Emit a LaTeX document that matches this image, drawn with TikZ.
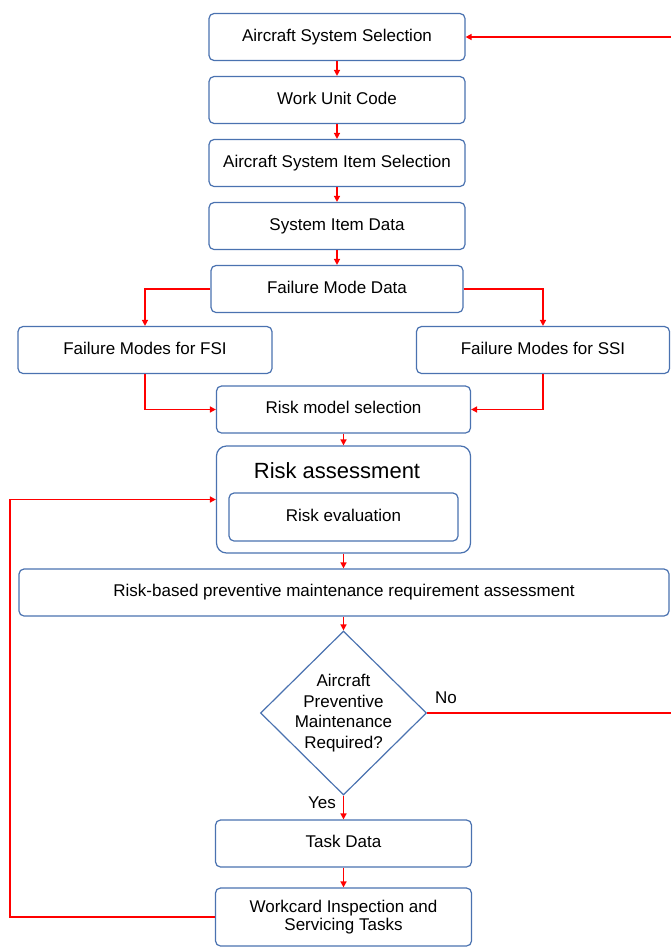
\documentclass[tikz,border=0pt]{standalone}
\usepackage{fontspec}
\setmainfont{Liberation Sans}
\usetikzlibrary{shapes.geometric,arrows.meta}
\definecolor{boxblue}{RGB}{74,114,176}

\begin{document}
\begin{tikzpicture}[x=1pt, y=1pt, node distance=63pt,
    font=\fontsize{17}{20.7}\selectfont,
    boxbase/.style={draw=boxblue, line width=1.2pt, rounded corners=5pt, fill=white,
        minimum width=256pt, minimum height=47pt, inner sep=0pt, align=center},
    box/.style={boxbase, text height=12pt, text depth=3.5pt},
    decision/.style={diamond, draw=boxblue, line width=1.2pt, fill=white,
        minimum width=166pt, minimum height=164pt, inner sep=-3pt, align=center},
    flow/.style={draw=red, line width=1.5pt, -{Triangle[length=6pt,width=6pt]}}]
    \useasboundingbox (0,0) rectangle (670,-948);

    % main column
    \node[box] (sys) at (337,-37) {Aircraft System Selection};
    \node[box, below of=sys] (wuc) {Work Unit Code};
    \node[box, below of=wuc] (item) {Aircraft System Item Selection};
    \node[box, below of=item] (itemdata) {System Item Data};
    \node[box, minimum width=252pt, below of=itemdata] (fmd) {Failure Mode Data};

    % failure mode branches
    \node[box, minimum width=254pt] (fsi) at (145,-350) {Failure Modes for FSI};
    \node[box, minimum width=253pt] (ssi) at (543,-350) {Failure Modes for SSI};
    \node[box, minimum width=254pt] (rms) at (343.5,-409.5) {Risk model selection};

    % risk assessment
    \node[boxbase, minimum width=254pt, minimum height=107pt, rounded corners=10pt] (ra) at (343.5,-499.5) {};
    \node[font=\fontsize{22}{26}\selectfont, anchor=base] (ratitle) at (337,-478) {Risk assessment};
    \node[box, minimum width=229pt, minimum height=48pt] (reval) at (343.5,-517) {Risk evaluation};
    \node[box, minimum width=650pt] (rbpm) at (344,-592.5) {Risk-based preventive maintenance requirement assessment};

    % decision and tasks
    \node[decision] (dec) at (343.5,-713) {Aircraft\\Preventive\\Maintenance\\Required?};
    \node[box] (task) at (343.5,-843.5) {Task Data};
    \node[boxbase, minimum height=58pt, font=\fontsize{17}{18}\selectfont] (work) at (343.5,-917) {Workcard Inspection and\\Servicing Tasks};
    \node (yes) at (322,-803) {Yes};
    \node (no) at (446,-698) {No};

    \coordinate (loopL) at (10,-917);
    \coordinate (loopR) at (672,-713);

    \draw[flow] (sys.south) -- (wuc.north);
    \draw[flow] (wuc.south) -- (item.north);
    \draw[flow] (item.south) -- (itemdata.north);
    \draw[flow] (itemdata.south) -- (fmd.north);
    \draw[flow] (fmd.west) -| (fsi.north);
    \draw[flow] (fmd.east) -| (ssi.north);
    \draw[flow] (fsi.south) |- (rms.west);
    \draw[flow] (ssi.south) |- (rms.east);
    \draw[flow] (rms.south) -- (ra.north);
    \draw[flow] (ra.south) -- (rbpm.north -| ra.south);
    \draw[flow] (rbpm.south -| dec.north) -- (dec.north);
    \draw[flow] (dec.south) -- (task.north);
    \draw[flow] (task.south) -- (work.north);
    \draw[flow] (work.west) -- (loopL) |- (ra.west);
    \draw[flow] (dec.east) -- (loopR) |- (sys.east);
\end{tikzpicture}
\end{document}
